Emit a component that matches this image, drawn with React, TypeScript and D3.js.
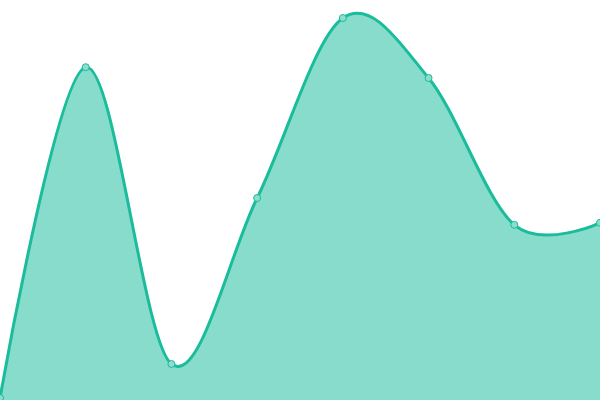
import { useMemo } from "react";
import * as d3 from "d3";

/* ------------------------------------------------------------------ */
/*  Data                                                              */
/* ------------------------------------------------------------------ */

const labels = ["A", "B", "C", "D", "E", "F", "G", "H"];
const values = [0.5, 83.2, 9, 50.5, 95.5, 80.5, 43.8, 44.3];

const WIDTH = 600;
const HEIGHT = 400;
const LINE = "#1abc9c";
const FILL = "rgba(26, 188, 156, 0.52)";

/* ------------------------------------------------------------------ */
/*  Component                                                         */
/* ------------------------------------------------------------------ */

export default function App() {
  const x = useMemo(
    () => d3.scalePoint<string>().domain(labels).range([0, WIDTH]),
    []
  );
  const y = useMemo(
    () => d3.scaleLinear().domain([0, 100]).range([HEIGHT, 0]),
    []
  );

  const points = labels.map((l, i) => ({ x: x(l) ?? 0, y: y(values[i]) }));

  const area = d3
    .area<{ x: number; y: number }>()
    .x((d) => d.x)
    .y0(HEIGHT)
    .y1((d) => d.y)
    .curve(d3.curveCardinal);

  const line = d3
    .line<{ x: number; y: number }>()
    .x((d) => d.x)
    .y((d) => d.y)
    .curve(d3.curveCardinal);

  return (
    <svg
      width={WIDTH}
      height={HEIGHT}
      style={{ position: "fixed", left: 0, top: 0, background: "#fff" }}
    >
      <path d={area(points) ?? ""} fill={FILL} stroke="none" />
      <path
        d={line(points) ?? ""}
        fill="none"
        stroke={LINE}
        strokeWidth={3}
        strokeLinejoin="round"
      />
      {/* point markers */}
      {points.map((p, i) => (
        <circle
          key={i}
          cx={p.x}
          cy={p.y}
          r={3.5}
          fill="#8cddcd"
          stroke={LINE}
          strokeWidth={1}
        />
      ))}
    </svg>
  );
}
